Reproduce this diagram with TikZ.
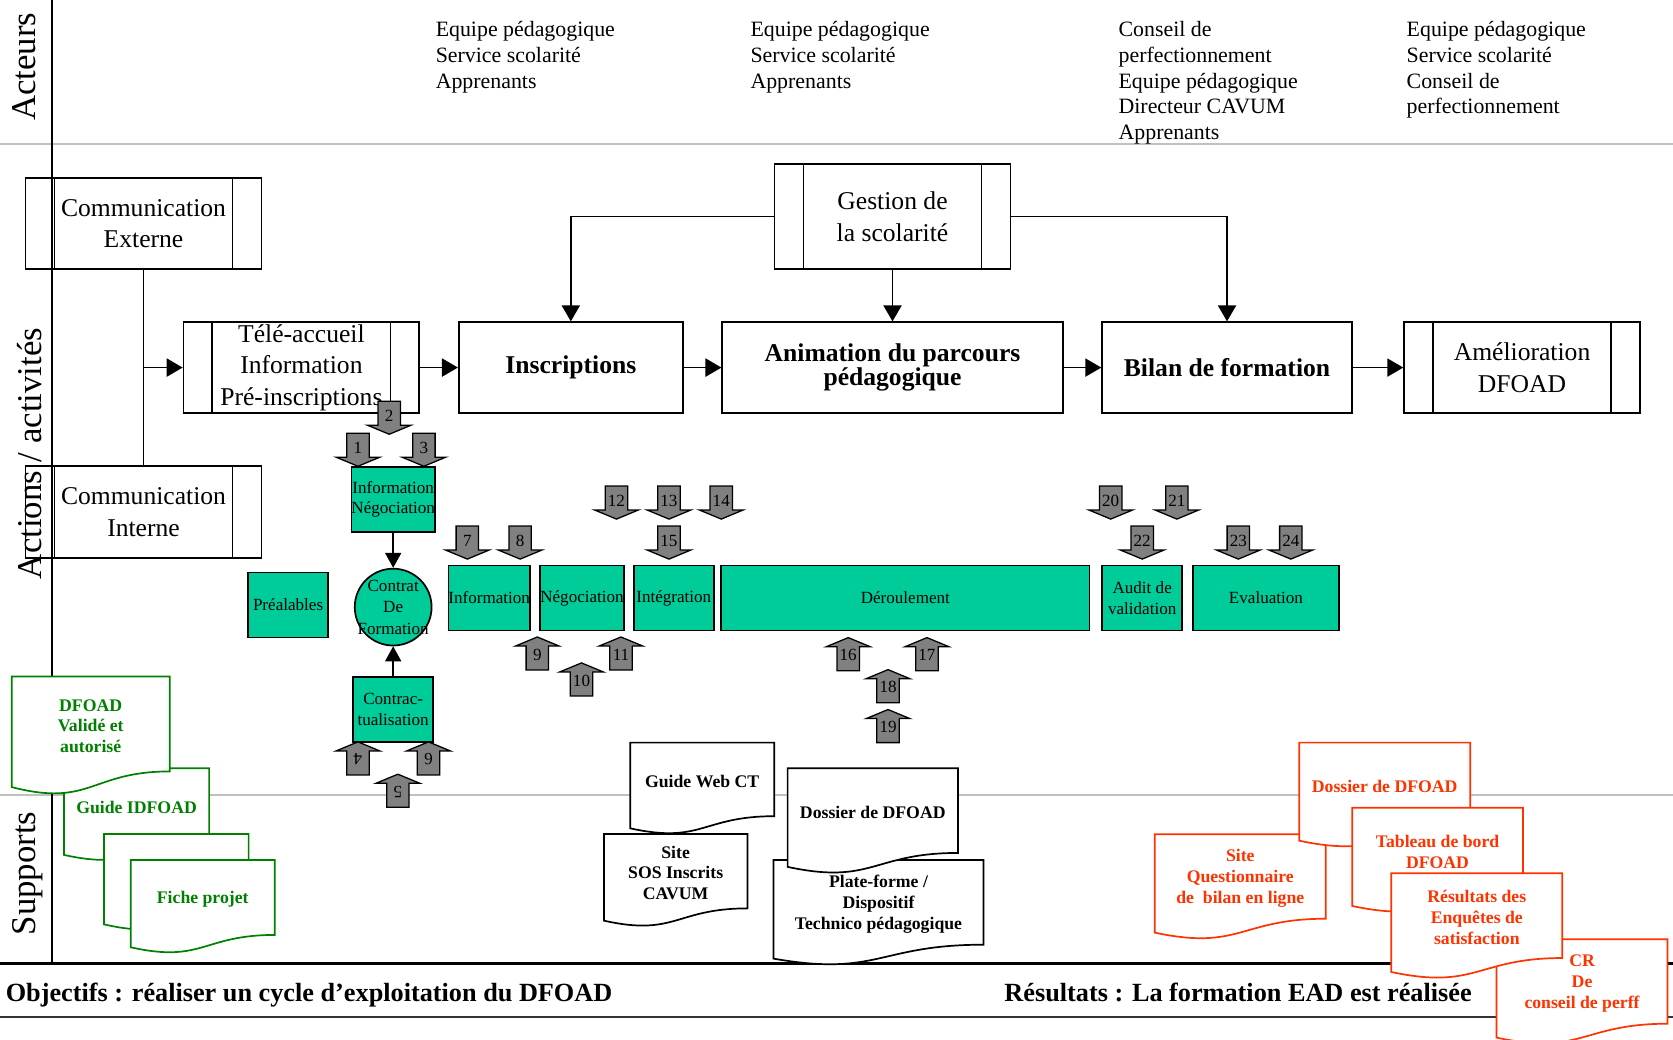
\documentclass[tikz,border=0pt]{standalone}
\usepackage{fontspec}
\setmainfont{Liberation Serif}
\usetikzlibrary{arrows.meta,positioning}
\definecolor{vert}{HTML}{00CC99}
\definecolor{docvert}{RGB}{0,128,0}
\definecolor{docrouge}{HTML}{FF3300}
\definecolor{gris}{HTML}{808080}
\definecolor{trait}{HTML}{C0C0C0}

% document shape: colour, name, x0, y0, width, height, text
\newcommand{\drawdoc}[7]{%
  \draw[doc,draw=#1] (#3,#4) -- ({#3+#5},#4) -- ({#3+#5},{#4+0.802*#6})
    .. controls ({#3+0.5*#5},{#4+0.802*#6}) and ({#3+0.5*#5},{#4+1.107*#6}) .. (#3,{#4+0.934*#6}) -- cycle;
  \node[doctext,text=#1] (#2) at ({#3+0.5*#5},{#4+0.42*#6}) {#7};}

\begin{document}
\begin{tikzpicture}[
	x=0.5pt, y=-0.5pt,
	cadre/.style={draw, line width=0.8pt, minimum width=110.5pt, minimum height=42.5pt,
	inner sep=1pt, align=center, font=\fontsize{12}{14.7}\selectfont},
	barres/.style={cadre, path picture={
		\draw[line width=0.8pt] ([xshift=13.5pt]path picture bounding box.north west) -- ([xshift=13.5pt]path picture bounding box.south west)
		([xshift=-13.5pt]path picture bounding box.north east) -- ([xshift=-13.5pt]path picture bounding box.south east);}},
	etape/.style={cadre, font=\bfseries\fontsize{12}{11}\selectfont},
	fleche/.style={line width=0.8pt, -{Triangle[length=7.5pt,width=8.5pt]}},
	petite/.style={line width=0.8pt, -{Triangle[length=7pt,width=7.5pt]}},
	vbox/.style={draw, fill=vert, line width=0.8pt, minimum width=37.5pt, minimum height=30.5pt,
	inner sep=0pt, align=center, font=\fontsize{8}{9.8}\selectfont},
	rond/.style={draw, fill=vert, line width=0.8pt, circle, minimum size=36pt, inner sep=0pt},
	vtext/.style={inner sep=0pt, align=center, font=\fontsize{8}{10}\selectfont},
	grosse/.style={fill=gris, draw=black, line width=0.6pt},
	num/.style={inner sep=0pt, font=\fontsize{8}{8}\selectfont},
	cote/.style={rotate=90, anchor=base, inner sep=0pt, font=\fontsize{16.3}{18}\selectfont},
	acteur/.style={anchor=north west, align=left, inner sep=0pt, font=\fontsize{10.25}{12}\selectfont},
	bilan/.style={anchor=base west, inner sep=0pt, font=\bfseries\fontsize{12.3}{14}\selectfont},
	doc/.style={fill=white, line width=0.8pt},
	doctext/.style={align=center, inner sep=0pt, font=\bfseries\fontsize{8.3}{9.8}\selectfont},
	]
	\useasboundingbox (0,0) rectangle (1568,974);
	% lanes
	\draw[trait, line width=1pt] (0,135) -- (1568,135);
	\draw[trait, line width=1pt] (0,745) -- (1568,745);
	\draw[line width=0.8pt] (49,0) -- (49,904);
	\draw[line width=1.3pt] (0,903) -- (1568,903);
	\draw[line width=1pt, black!80] (0,953) -- (1568,953);
	\node[cote] (acteurs) at (33.7,62.5) {Acteurs};
	\node[cote] (actions) at (39,425) {Actions / activités};
	\node[cote] (supports) at (33.7,818.5) {Supports};

	% acteurs
	\node[acteur] (act1) at (408,20) {Equipe pédagogique\\Service scolarité\\Apprenants};
	\node[acteur] (act2) at (703,20) {Equipe pédagogique\\Service scolarité\\Apprenants};
	\node[acteur] (act3) at (1048,20) {Conseil de\\perfectionnement\\Equipe pédagogique\\Directeur CAVUM\\Apprenants};
	\node[acteur] (act4) at (1318,20) {Equipe pédagogique\\Service scolarité\\Conseil de\\perfectionnement};

	% activites
	\node[barres] (comext) at (134.5,209.5) {Communication\\Externe};
	\node[barres, minimum height=43pt] (comint) at (134.5,480) {Communication\\Interne};
	\node[barres] (tele) at (282.5,344.5) {Télé-accueil\\Information\\Pré-inscriptions};
	\node[etape, minimum width=105pt] (inscr) at (535,344.5) {Inscriptions};
	\node[etape, minimum width=159.5pt] (anim) at (836.5,344.5) {Animation du parcours\\pédagogique};
	\node[etape, minimum width=117pt] (bilanf) at (1150,344.5) {Bilan de formation};
	\node[barres] (amelio) at (1426.5,344.5) {Amélioration\\DFOAD};
	\node[barres, minimum height=49pt] (gestion) at (836.5,203) {Gestion de\\la scolarité};

	\draw[line width=0.8pt] (comext) -- (comint);
	\draw[fleche] (comext.south |- tele.west) -- (tele.west);
	\draw[fleche] (tele) -- (inscr);
	\draw[fleche] (inscr) -- (anim);
	\draw[fleche] (anim) -- (bilanf);
	\draw[fleche] (bilanf) -- (amelio);
	\draw[fleche] (gestion.west) -| (inscr.north);
	\draw[fleche] (gestion) -- (anim);
	\draw[fleche] (gestion.east) -| (bilanf.north);

	% actions
	\node[vbox] (infoneg) at (368.5,468) {Information\\Négociation};
	\node[rond] (contrat) at (368.5,569) {};
	\node[vtext] (contratt) at (contrat) {Contrat\\De\\Formation};
	\node[vbox] (contrac) at (368.5,665) {Contrac-\\tualisation};
	\node[vbox] (preal) at (270,567) {Préalables};
	\node[vbox] (info) at (458.5,560.5) {Information};
	\node[vbox] (nego) at (545.5,560.5) {Négociation};
	\node[vbox] (integ) at (631.5,560.5) {Intégration};
	\node[vbox, minimum width=172.5pt] (derou) at (848.5,560.5) {Déroulement};
	\node[vbox] (audit) at (1070.5,560.5) {Audit de\\validation};
	\node[vbox, minimum width=68.5pt] (evalu) at (1186.5,560.5) {Evaluation};
	\draw[petite] (infoneg) -- (contrat);
	\draw[petite] (contrac) -- (contrat);

	% numbered arrows
	\foreach \xa/\ya/\n in {335.5/406/1, 364.8/376/2, 397.3/406/3, 438/493/7, 487.5/493/8,
		577.8/455.5/12, 627/455.5/13, 676/455.5/14, 627/493/15, 1041/455.5/20,
		1103/455.5/21, 1070.5/493/22, 1160.6/493/23, 1209.8/493/24}{
		\draw[grosse] (\xa-10.5,\ya) -- ++(21,0) -- ++(0,22.5) -- ++(10,0) -- (\xa,\ya+31)
			-- ++(-20.5,-8.5) -- ++(10,0) -- cycle;
		\node[num] (fb\n) at (\xa,\ya+14) {\n};
	}
	\foreach \xa/\ya/\n in {503.6/628/9, 545/652.3/10, 582/628/11, 795/628.6/16,
		868.8/628.6/17, 832.3/658.6/18, 832.3/696/19}{
		\draw[grosse] (\xa-10.5,\ya) -- ++(21,0) -- ++(0,-22.5) -- ++(10,0) -- (\xa,\ya-31)
			-- ++(-20.5,8.5) -- ++(10,0) -- cycle;
		\node[num] (fh\n) at (\xa,\ya-14.5) {\n};
	}
	\foreach \xa/\ya/\n in {335.5/726.3/4, 372.9/756.6/5, 401.6/726.3/6}{
		\draw[grosse] (\xa-10.5,\ya) -- ++(21,0) -- ++(0,-22.5) -- ++(10,0) -- (\xa,\ya-31)
			-- ++(-20.5,8.5) -- ++(10,0) -- cycle;
		\node[num, rotate=180] (fh\n) at (\xa,\ya-14.5) {\n};
	}

	% supports
	\drawdoc{docvert}{guide}{60}{720}{136}{87}{Guide IDFOAD}
	\drawdoc{docvert}{dfoad}{11}{634}{148}{111}{DFOAD\\Validé et\\autorisé}
	\drawdoc{docvert}{vierge}{97.4}{781.6}{135.6}{90.7}{}
	\drawdoc{docvert}{fiche}{122.5}{806}{135}{87.6}{Fiche projet}
	\drawdoc{black}{webct}{590.6}{696}{135}{86}{Guide Web CT}
	\drawdoc{black}{sos}{566}{781.6}{134.5}{87}{Site\\SOS Inscrits\\CAVUM}
	\drawdoc{black}{plateforme}{725}{806}{196.7}{99}{Plate-forme /\\Dispositif\\Technico pédagogique}
	\drawdoc{black}{dossier}{738.2}{720}{159.6}{99}{Dossier de DFOAD}
	\drawdoc{docrouge}{cr}{1402.6}{880.3}{160.3}{98.7}{CR\\De\\conseil de perff}
	\drawdoc{docrouge}{siteq}{1082.3}{781.9}{160.3}{98.7}{Site\\Questionnaire\\de~ bilan en ligne}
	\drawdoc{docrouge}{dossr}{1217.6}{696}{160.3}{98.4}{Dossier de DFOAD}
	\drawdoc{docrouge}{tableau}{1267.3}{757}{160}{98.6}{Tableau de bord\\DFOAD}
	\drawdoc{docrouge}{resultats}{1304}{818.5}{160.2}{99}{Résultats des\\Enquêtes de\\satisfaction}

	% objectifs / resultats
	\node[bilan] (objectifs) at (5,939) {Objectifs : réaliser un cycle d’exploitation du DFOAD};
	\node[bilan] (resultat) at (941,939) {Résultats : La formation EAD est réalisée};
\end{tikzpicture}
\end{document}
